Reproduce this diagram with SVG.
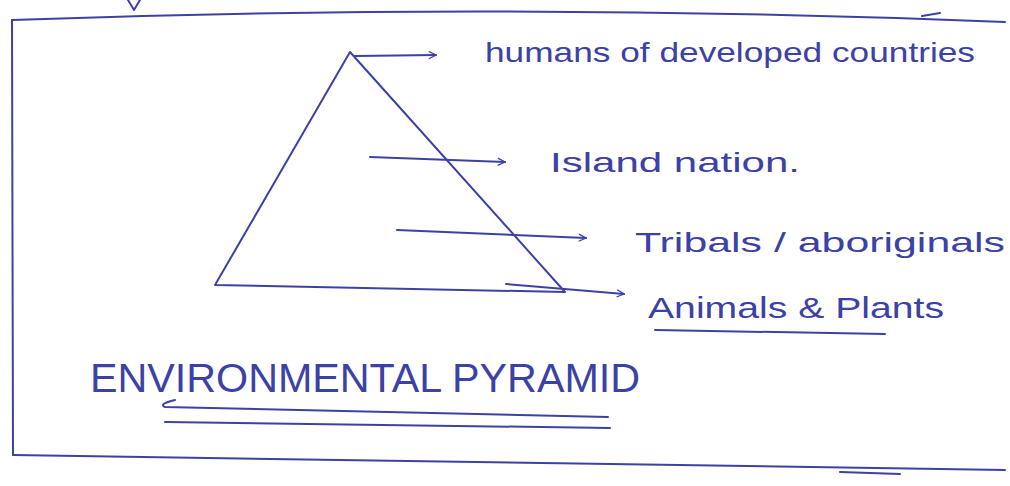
<svg xmlns="http://www.w3.org/2000/svg" width="1010" height="486" viewBox="0 0 1010 486">
<style>
.ink{fill:none;stroke:#3c41a6;stroke-width:2;stroke-linecap:round;stroke-linejoin:round}
.t{font-family:"Liberation Sans",Arial,sans-serif;fill:#3c41a6}
</style>
<defs>
<marker id="ah" viewBox="0 0 10 10" refX="9" refY="5" markerWidth="9" markerHeight="9" markerUnits="userSpaceOnUse" orient="auto"><path d="M1,1 L9,5 L1,9" fill="none" stroke="#3c41a6" stroke-width="1.4"/></marker>
</defs>
<rect width="1010" height="486" fill="#ffffff"/>
<g id="frame" class="ink">
<path d="M12,20 Q500,2 1005,22"/>
<path d="M12,20 L13,455"/>
<path d="M13,455 Q500,462 1005,470"/>
<path d="M128,0 L134,10 L140,0"/>
<path d="M922,16 L940,13"/>
<path d="M840,472 L900,474"/>
</g>
<g id="pyramid" class="ink">
<path d="M350,52 L215,285 L565,292 Z"/>
</g>
<g id="connectors" class="ink">
<path d="M355,56 L436,55" marker-end="url(#ah)"/>
<path d="M370,157 L505,162" marker-end="url(#ah)"/>
<path d="M397,230 L586,238" marker-end="url(#ah)"/>
<path d="M506,284 L624,294" marker-end="url(#ah)"/>
</g>
<g id="label-humans"><text class="t" x="485" y="62" font-size="28" textLength="490" lengthAdjust="spacingAndGlyphs">humans of developed countries</text></g>
<g id="label-island"><text class="t" x="550" y="172" font-size="28" textLength="250" lengthAdjust="spacingAndGlyphs">Island nation.</text></g>
<g id="label-tribals"><text class="t" x="635" y="252" font-size="28" textLength="370" lengthAdjust="spacingAndGlyphs">Tribals / aboriginals</text></g>
<g id="label-animals">
<text class="t" x="648" y="318" font-size="30" textLength="296" lengthAdjust="spacingAndGlyphs">Animals &amp; Plants</text>
<path class="ink" d="M655,330 L885,334"/>
</g>
<g id="title">
<text class="t" x="90" y="392" font-size="40" textLength="550" lengthAdjust="spacingAndGlyphs">ENVIRONMENTAL PYRAMID</text>
<path class="ink" d="M175,400 Q158,404 165,407 L608,417"/>
<path class="ink" d="M165,422 L610,428"/>
</g>
</svg>
